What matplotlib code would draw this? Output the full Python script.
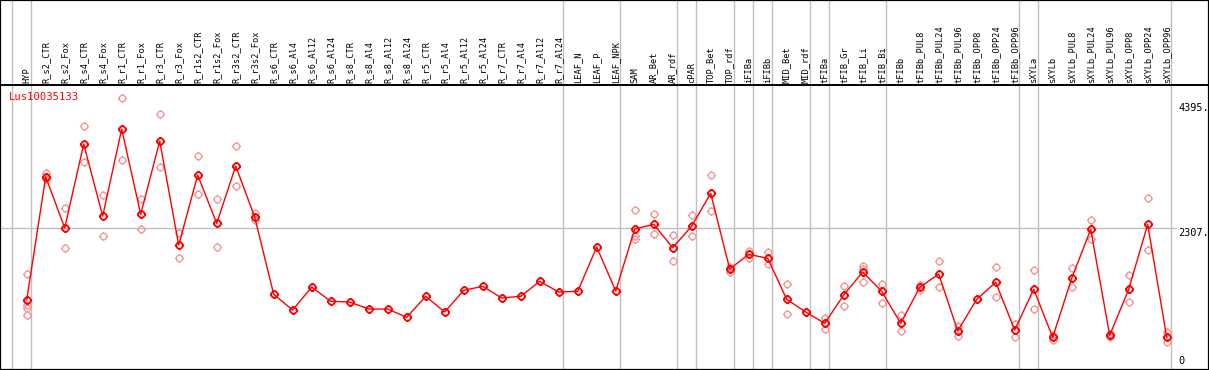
import matplotlib
matplotlib.use("Agg")
import matplotlib.pyplot as plt
from matplotlib.path import Path
from matplotlib.transforms import blended_transform_factory
import numpy as np

title = "Lus10035133"

samples = ["HYP", "R_s2_CTR", "R_s2_Fox", "R_s4_CTR", "R_s4_Fox", "R_r1_CTR", "R_r1_Fox",
           "R_r3_CTR", "R_r3_Fox", "R_r1s2_CTR", "R_r1s2_Fox", "R_r3s2_CTR", "R_r3s2_Fox",
           "R_s6_CTR", "R_s6_Al4", "R_s6_Al12", "R_s6_Al24", "R_s8_CTR", "R_s8_Al4",
           "R_s8_Al12", "R_s8_Al24", "R_r5_CTR", "R_r5_Al4", "R_r5_Al12", "R_r5_Al24",
           "R_r7_CTR", "R_r7_Al4", "R_r7_Al12", "R_r7_Al24", "LEAF_N", "LEAF_P", "LEAF_NPK",
           "SAM", "AR_Bet", "AR_rdf", "cPAR", "TOP_Bet", "TOP_rdf", "iFIBa", "iFIBb",
           "MID_Bet", "MID_rdf", "tFIBa", "tFIB_Gr", "tFIB_Li", "tFIB_Bi", "tFIBb",
           "tFIBb_PUL8", "tFIBb_PUL24", "tFIBb_PUL96", "tFIBb_OPP8", "tFIBb_OPP24",
           "tFIBb_OPP96", "sXYLa", "sXYLb", "sXYLb_PUL8", "sXYLb_PUL24", "sXYLb_PUL96",
           "sXYLb_OPP8", "sXYLb_OPP24", "sXYLb_OPP96"]

means = [1102, 3161, 2305, 3707, 2505, 3958, 2533, 3758, 2021, 3190, 2383, 3340, 2488,
         1197, 935, 1319, 1080, 1069, 952, 952, 813, 1164, 902, 1264, 1331,
         1136, 1164, 1414, 1236, 1247, 1987, 1253,
         2288, 2366, 1976, 2338, 2884, 1620, 1865, 1799,
         1114, 902, 713, 1186, 1570, 1247, 713,
         1314, 1536, 585, 1114, 1398, 601,
         1281, 479, 1465, 2283, 512, 1281, 2366, 479]

replicates = [[1536, 1019, 969, 852], [3223, 3156, 3123], [2639, 1971], [4008, 3407],
              [2856, 2171], [4471, 3440], [2784, 2283], [4208, 3323], [2226, 1799],
              [3507, 2872], [2784, 1987], [3674, 3001], [2550, 2438],
              [], [], [], [], [], [], [], [], [], [], [], [],
              [], [], [], [], [], [], [],
              [2600, 2176, 2116], [2533, 2199], [2188, 1748], [2517, 2166],
              [3185, 2584], [1648, 1570], [1926, 1809], [1909, 1708],
              [1364, 863], [], [807, 613], [1336, 997], [1670, 1625, 1398],
              [1364, 1047], [847, 579],
              [1348, 1269], [1748, 1314], [663, 501], [], [1653, 1147], [701, 479],
              [1598, 952], [518, 434], [1632, 1314], [2433, 2116], [534, 484],
              [1515, 1064], [2801, 1932], [563, 406]]

# separators drawn after these sample indices
group_ends = [-1, 0, 28, 31, 34, 35, 37, 38, 39, 41, 42, 45, 52, 53, 60]

ytick_vals = [0, 2307, 4395]
ytick_text = ["0", "2307.", "4395."]

# marker: open circle with four little ticks
theta = np.linspace(0, 2 * np.pi, 40)
circ = Path(np.column_stack([np.cos(theta), np.sin(theta)]))
tick_verts = [(1, 0), (1.4, 0), (-1, 0), (-1.4, 0), (0, 1), (0, 1.4), (0, -1), (0, -1.4)]
ticks = Path(tick_verts, [Path.MOVETO, Path.LINETO] * 4)
marker = Path.make_compound_path(circ, ticks)

W, H = 1209, 370
fig = plt.figure(figsize=(W / 100, H / 100), dpi=100)
ax = fig.add_axes([0, 0, 1, 1])

k = 2088 / 125.0  # value units per pixel
x0, dx = 26.7, 19.0
ax.set_xlim(-x0 / dx, (W - x0) / dx)
ax.set_ylim(-4 * k, 366 * k)
ax.set_xticks([])
ax.set_yticks([])
for s in ax.spines.values():
    s.set_linewidth(1.6)
    s.set_color("black")

header_y = (H - 85) / H
bt = blended_transform_factory(ax.transData, ax.transAxes)

for g in group_ends:
    ax.axvline(g + 0.21, color="#c0c0c0", lw=1, zorder=1)

ax.axhline(2307, xmax=1176 / W, color="#c0c0c0", lw=1, zorder=1)
ax.axhline(header_y * 366 * k + (1 - header_y) * (-4 * k), color="black", lw=1.4, zorder=2)

x = np.arange(len(samples))
for i, reps in enumerate(replicates):
    if reps:
        ax.plot([i] * len(reps), reps, linestyle="none", marker=marker, ms=6.5,
                mfc="none", mec="#f09a9a", mew=1.0, zorder=3)

ax.plot(x, means, color="red", lw=1, zorder=4)
ax.plot(x, means, linestyle="none", marker=marker, ms=6.5, mfc="none",
        mec="red", mew=1.3, zorder=5)

for i, name in enumerate(samples):
    ax.text(i, (H - 83) / H, name, transform=bt, rotation=90, ha="center", va="bottom",
            fontsize=6.2, family="DejaVu Sans Mono", color="black")

ax.text(9 / W, (H - 97) / H, title, transform=ax.transAxes, ha="left", va="center",
        fontsize=7.6, family="DejaVu Sans Mono", color="red")

yt = ax.get_yaxis_transform()
for v, t in zip(ytick_vals, ytick_text):
    va = "bottom" if v == 0 else "top"
    ax.text(1178 / W, v, t, transform=yt, ha="left", va=va,
            fontsize=7.4, family="DejaVu Sans Mono", color="black")

fig.savefig("out.png", dpi=100)
